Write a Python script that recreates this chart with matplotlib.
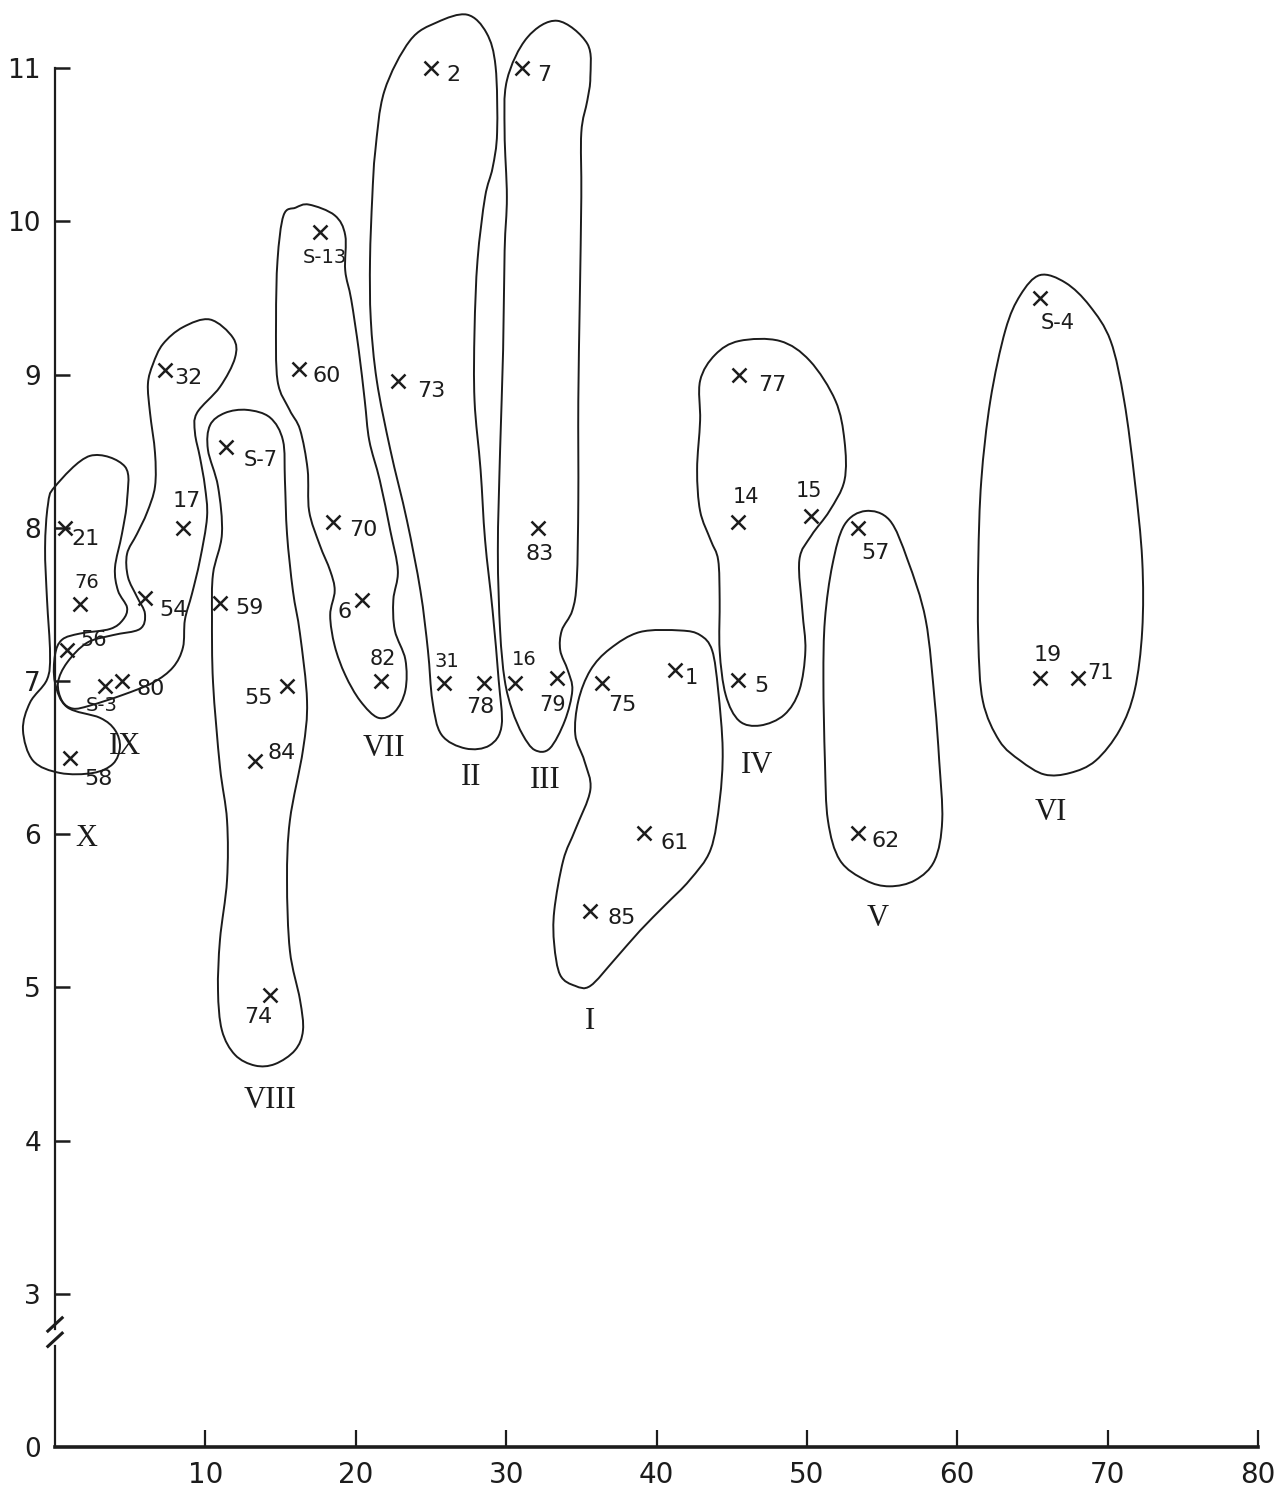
import numpy as np
import matplotlib

matplotlib.use("Agg")
import matplotlib.pyplot as plt
from matplotlib.path import Path
from matplotlib.patches import PathPatch

INK = "#1c1c1c"

# sample points (x, y)
IDS = ["2", "7", "S-13", "60", "73", "32", "S-7", "77", "S-4",
       "21", "17", "70", "83", "14", "15", "57", "76", "54", "59", "6",
       "56", "82", "31", "78", "16", "79", "75", "1", "5", "19", "71",
       "S-3", "80", "55", "58", "84", "61", "62", "85", "74"]
XS = [25.0, 31.05, 17.6, 16.2, 22.8, 7.3, 11.4, 45.5, 65.5,
      0.66, 8.5, 18.5, 32.1, 45.4, 50.3, 53.4, 1.66, 6.0, 11.0, 20.4,
      0.8, 21.7, 25.9, 28.5, 30.6, 33.4, 36.4, 41.2, 45.4, 65.5, 68.0,
      3.3, 4.45, 15.4, 1.0, 13.3, 39.2, 53.4, 35.6, 14.3]
YS = [11.0, 11.0, 9.93, 9.04, 8.96, 9.03, 8.53, 9.0, 9.5,
      8.0, 8.0, 8.04, 8.0, 8.04, 8.08, 8.0, 7.5, 7.54, 7.51, 7.53,
      7.2, 7.0, 6.99, 6.99, 6.99, 7.02, 6.99, 7.07, 7.01, 7.02, 7.02,
      6.97, 7.0, 6.97, 6.5, 6.48, 6.01, 6.01, 5.5, 4.95]

# cluster names and where they are written
CLUSTERS = ["I", "II", "III", "IV", "V", "VI", "VII", "VIII", "IX", "X"]
CLUSTER_X = [35.6, 27.7, 32.6, 46.7, 54.7, 66.2, 21.9, 14.3, 4.65, 2.1]
CLUSTER_Y = [4.78, 6.37, 6.35, 6.45, 5.45, 6.14, 6.56, 4.26, 6.57, 5.97]

# hand drawn cluster outlines (x, y vertices)
OUTLINE_I = [(38.9, 7.32), (41.6, 7.33), (42.9, 7.30), (43.7, 7.20), (44.1, 6.94),
             (44.4, 6.55), (44.2, 6.22), (43.6, 5.90), (42.2, 5.70), (40.6, 5.54),
             (38.9, 5.37), (37.2, 5.18), (35.6, 5.01), (34.6, 5.01), (33.6, 5.08),
             (33.2, 5.28), (33.2, 5.50), (33.8, 5.83), (34.6, 6.03), (35.6, 6.29),
             (35.2, 6.48), (34.6, 6.65), (34.8, 6.87), (35.6, 7.07), (36.9, 7.21)]
OUTLINE_II = [(23.6, 11.18), (25.4, 11.30), (27.4, 11.35), (28.7, 11.23), (29.3, 11.01),
              (29.4, 10.58), (29.1, 10.35), (28.6, 10.16), (28.1, 9.75), (27.9, 9.29),
              (27.9, 8.83), (28.3, 8.38), (28.6, 7.92), (29.1, 7.46), (29.5, 7.01),
              (29.7, 6.71), (28.9, 6.58), (27.3, 6.56), (25.7, 6.65), (25.1, 6.87),
              (24.8, 7.20), (24.3, 7.59), (23.4, 8.05), (22.3, 8.51), (21.4, 8.96),
              (21.0, 9.36), (20.95, 9.75), (21.1, 10.16), (21.3, 10.46), (21.9, 10.85)]
OUTLINE_III = [(31.4, 11.20), (33.4, 11.31), (35.4, 11.16), (35.6, 10.94), (35.4, 10.79),
               (35.0, 10.58), (35.0, 10.16), (34.9, 9.49), (34.8, 8.83), (34.8, 8.18),
               (34.7, 7.66), (34.4, 7.46), (33.7, 7.33), (33.6, 7.20), (34.1, 7.07),
               (34.4, 6.94), (33.9, 6.74), (32.9, 6.56), (31.9, 6.55), (31.1, 6.65),
               (30.4, 6.81), (29.9, 7.01), (29.6, 7.33), (29.45, 7.85), (29.6, 8.51),
               (29.8, 9.16), (29.9, 9.81), (30.05, 10.16), (29.9, 10.58), (30.05, 10.92)]
OUTLINE_IV = [(45.5, 9.22), (48.2, 9.22), (50.2, 9.09), (51.9, 8.83), (52.5, 8.57),
              (52.5, 8.31), (51.5, 8.11), (50.3, 7.95), (49.5, 7.79), (49.7, 7.46),
              (49.9, 7.20), (49.5, 6.94), (48.5, 6.78), (46.9, 6.71), (45.5, 6.74),
              (44.6, 6.91), (44.2, 7.20), (44.2, 7.53), (44.1, 7.79), (43.6, 7.92),
              (42.9, 8.11), (42.7, 8.38), (42.9, 8.70), (42.9, 8.96), (43.9, 9.13)]
OUTLINE_V = [(53.9, 8.11), (55.5, 8.05), (56.7, 7.79), (57.9, 7.40), (58.5, 6.87),
             (58.8, 6.48), (59.0, 6.09), (58.5, 5.83), (57.2, 5.70), (55.5, 5.66),
             (53.9, 5.70), (52.2, 5.83), (51.4, 6.09), (51.2, 6.48), (51.1, 7.01),
             (51.2, 7.40), (51.7, 7.76), (52.5, 8.02)]
OUTLINE_VI = [(65.5, 9.65), (67.2, 9.60), (68.8, 9.45), (70.2, 9.22), (71.1, 8.83),
              (71.8, 8.31), (72.3, 7.79), (72.3, 7.33), (71.8, 6.94), (70.8, 6.68),
              (69.2, 6.48), (67.5, 6.40), (65.8, 6.39), (64.2, 6.48), (62.8, 6.61),
              (61.7, 6.87), (61.4, 7.27), (61.4, 7.79), (61.6, 8.31), (62.2, 8.83),
              (63.2, 9.29), (64.2, 9.52)]
OUTLINE_VII = [(16.9, 10.11), (18.6, 10.04), (19.3, 9.91), (19.3, 9.68), (19.7, 9.49),
               (20.2, 9.16), (20.6, 8.83), (20.9, 8.57), (21.6, 8.31), (22.3, 7.98),
               (22.8, 7.72), (22.5, 7.53), (22.6, 7.33), (23.3, 7.14), (23.3, 6.94),
               (22.6, 6.80), (21.5, 6.76), (20.3, 6.87), (19.3, 7.04), (18.6, 7.23),
               (18.3, 7.43), (18.6, 7.59), (18.3, 7.72), (17.6, 7.89), (16.9, 8.11),
               (16.8, 8.38), (16.3, 8.64), (15.6, 8.77), (14.8, 8.96), (14.7, 9.36),
               (14.8, 9.75), (15.2, 10.04), (16.0, 10.09)]
OUTLINE_VIII = [(12.77, 8.77), (14.30, 8.72), (15.16, 8.57), (15.29, 8.31), (15.43, 7.96),
                (15.82, 7.59), (16.29, 7.31), (16.76, 6.87), (16.49, 6.55), (15.62, 6.09),
                (15.43, 5.70), (15.62, 5.24), (16.29, 4.92), (16.49, 4.72), (15.96, 4.59),
                (14.63, 4.50), (13.30, 4.49), (11.97, 4.56), (11.10, 4.72), (10.84, 4.98),
                (10.97, 5.31), (11.44, 5.70), (11.44, 6.09), (10.97, 6.44), (10.51, 6.99),
                (10.44, 7.42), (10.51, 7.70), (11.10, 7.96), (10.84, 8.27), (10.17, 8.51),
                (10.31, 8.67), (11.30, 8.75)]
OUTLINE_IX = [(10.31, 9.36), (11.84, 9.24), (11.97, 9.11), (10.97, 8.92), (9.44, 8.75),
              (9.31, 8.62), (9.64, 8.46), (9.97, 8.27), (10.11, 8.07), (9.64, 7.79),
              (9.11, 7.57), (8.64, 7.40), (8.51, 7.22), (7.85, 7.09), (6.52, 6.99),
              (4.52, 6.91), (2.33, 6.84), (1.20, 6.82), (0.47, 6.87), (0.20, 6.99),
              (0.80, 7.12), (2.13, 7.25), (3.86, 7.30), (5.65, 7.34), (5.98, 7.44),
              (5.45, 7.55), (4.85, 7.68), (4.79, 7.83), (5.45, 7.96), (6.12, 8.10),
              (6.65, 8.27), (6.65, 8.49), (6.32, 8.75), (6.18, 8.94), (6.52, 9.07),
              (7.18, 9.20), (8.51, 9.31)]
OUTLINE_X = [(0.00, 8.27), (2.33, 8.47), (4.65, 8.40), (4.79, 8.18), (4.45, 7.96),
             (3.99, 7.74), (4.19, 7.59), (4.79, 7.48), (4.52, 7.40), (3.66, 7.34),
             (1.66, 7.31), (0.47, 7.27), (0.00, 7.17), (0.00, 6.99), (0.80, 6.83),
             (2.99, 6.76), (3.99, 6.68), (4.32, 6.57), (3.86, 6.46), (2.53, 6.40),
             (0.33, 6.40), (-1.46, 6.48), (-2.13, 6.68), (-1.66, 6.86), (-0.53, 7.01),
             (-0.33, 7.18), (-0.53, 7.53), (-0.66, 7.87), (-0.47, 8.15)]
OUTLINES = [OUTLINE_I, OUTLINE_II, OUTLINE_III, OUTLINE_IV, OUTLINE_V,
            OUTLINE_VI, OUTLINE_VII, OUTLINE_VIII, OUTLINE_IX, OUTLINE_X]

XTICKS = [10, 20, 30, 40, 50, 60, 70, 80]
YTICKS = [2, 3, 4, 5, 6, 7, 8, 9, 10, 11]
YTICK_LABELS = ["0", "3", "4", "5", "6", "7", "8", "9", "10", "11"]

# where each number sits relative to its cross (pixels), and its size
LABEL_POS = {
    "2": (22, -7, 16), "7": (22, -7, 16), "S-13": (5, -25, 14), "60": (28, -7, 16),
    "73": (33, -10, 16), "32": (24, -8, 16), "S-7": (34, -13, 15), "77": (33, -10, 16),
    "S-4": (18, -25, 15), "21": (21, -11, 16), "17": (4, 27, 16), "70": (30, -8, 16),
    "83": (2, -26, 16), "14": (8, 25, 15), "15": (-2, 25, 15), "57": (17, -25, 16),
    "76": (7, 22, 14), "54": (28, -12, 16), "59": (29, -5, 16), "6": (-17, -12, 16),
    "56": (27, 10, 15), "82": (1, 22, 15), "31": (2, 21, 14), "78": (-3, -24, 16),
    "16": (9, 23, 14), "79": (-5, -27, 15), "75": (20, -22, 16), "1": (17, -8, 15),
    "5": (24, -6, 16), "19": (8, 23, 16), "71": (23, 5, 15), "S-3": (-3, -20, 14),
    "80": (29, -8, 16), "55": (-28, -12, 16), "58": (28, -21, 16), "84": (27, 8, 16),
    "61": (30, -10, 16), "62": (28, -8, 16), "85": (31, -7, 16), "74": (-12, -22, 16),
}


def smooth_closed(pts):
    # closed Catmull-Rom curve through the vertices, as cubic Bezier segments
    p = np.asarray(pts, float)
    n = len(p)
    verts, codes = [p[0]], [Path.MOVETO]
    for i in range(n):
        p0, p1, p2, p3 = p[i - 1], p[i], p[(i + 1) % n], p[(i + 2) % n]
        verts += [p1 + (p2 - p0) / 6, p2 - (p3 - p1) / 6, p2]
        codes += [Path.CURVE4] * 3
    return Path(verts, codes)


fig = plt.figure(figsize=(12.86, 14.94), dpi=100)
ax = fig.add_axes([55 / 1286, 1 - 1447 / 1494, 1203 / 1286, 1440 / 1494])
ax.set_xlim(0, 80)
ax.set_ylim(2, 11.4)

for outline in OUTLINES:
    ax.add_patch(PathPatch(smooth_closed(outline), fc="none", ec=INK, lw=1.4,
                           clip_on=False))

ax.plot(XS, YS, "x", color=INK, ms=9.5, mew=1.8, clip_on=False)
for sid, x, y in zip(IDS, XS, YS):
    dx, dy, fs = LABEL_POS[sid]
    ax.annotate(sid, (x, y), xytext=(dx, dy), textcoords="offset pixels",
                ha="center", va="center", fontsize=fs, color=INK,
                family=["DejaVu Sans"])

for name, x, y in zip(CLUSTERS, CLUSTER_X, CLUSTER_Y):
    ax.text(x, y, name, ha="center", va="center", fontsize=22, color=INK,
            family=["Liberation Serif", "DejaVu Serif"])

# axes: left spine broken between 0 and 3
for side in ("top", "right"):
    ax.spines[side].set_visible(False)
ax.spines["left"].set_bounds(2.77, 11)
ax.spines["left"].set_linewidth(1.6)
ax.spines["bottom"].set_linewidth(2.6)
ax.spines["left"].set_color(INK)
ax.spines["bottom"].set_color(INK)
ax.plot([0, 0], [2, 2.66], color=INK, lw=1.6, clip_on=False)
for yb in (2.70, 2.80):
    ax.plot([-0.55, 0.55], [yb - 0.05, yb + 0.05], color=INK, lw=2.2,
            clip_on=False, solid_capstyle="butt")

ax.set_xticks(XTICKS)
ax.set_xticklabels([str(t) for t in XTICKS], fontsize=20)
ax.set_yticks(YTICKS)
ax.set_yticklabels(YTICK_LABELS, fontsize=19)
ax.tick_params(axis="x", direction="in", length=12, width=1.6, pad=10, colors=INK)
ax.tick_params(axis="y", direction="in", length=11, width=1.8, pad=10, colors=INK)
ax.yaxis.get_major_ticks()[0].tick1line.set_visible(False)

fig.savefig("out.png", dpi=100, facecolor="white")
